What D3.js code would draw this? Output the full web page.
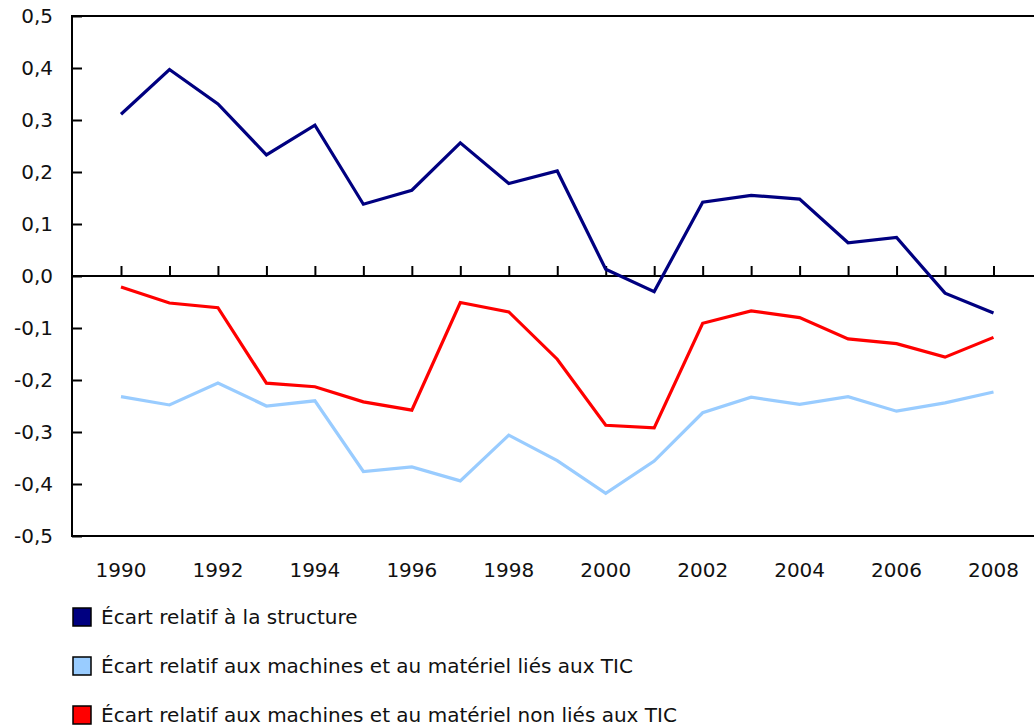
<!DOCTYPE html>
<html>
<head>
<meta charset="utf-8">
<script src="https://cdn.jsdelivr.net/npm/d3@7"></script>
<style>
  body { margin: 0; background: #fff; }
  svg text { font-family: "DejaVu Sans", Verdana, sans-serif; font-weight: normal; fill: #111; }
</style>
</head>
<body>
<svg id="chart" width="1034" height="728"></svg>
<script>
// years on the x axis
const years = [1990, 1991, 1992, 1993, 1994, 1995, 1996, 1997, 1998, 1999,
               2000, 2001, 2002, 2003, 2004, 2005, 2006, 2007, 2008];
// values
const structure = [0.311, 0.397, 0.331, 0.233, 0.290, 0.138, 0.165, 0.256, 0.178, 0.202,
                   0.013, -0.030, 0.142, 0.155, 0.148, 0.064, 0.074, -0.033, -0.071];
const ticMachines = [-0.232, -0.248, -0.206, -0.250, -0.240, -0.376, -0.367, -0.394, -0.306, -0.355,
                     -0.418, -0.356, -0.263, -0.233, -0.247, -0.232, -0.260, -0.244, -0.223];
const nonTicMachines = [-0.021, -0.052, -0.061, -0.206, -0.213, -0.242, -0.258, -0.051, -0.069, -0.160,
                        -0.287, -0.292, -0.091, -0.067, -0.080, -0.121, -0.130, -0.156, -0.118];
const yTicks = [0.5, 0.4, 0.3, 0.2, 0.1, 0.0, -0.1, -0.2, -0.3, -0.4, -0.5];
const xLabelYears = [1990, 1992, 1994, 1996, 1998, 2000, 2002, 2004, 2006, 2008];
const seriesNames = ["Écart relatif à la structure",
                     "Écart relatif aux machines et au matériel liés aux TIC",
                     "Écart relatif aux machines et au matériel non liés aux TIC"];
const seriesColors = ["#000080", "#99ccff", "#ff0000"];

var svg = d3.select("#chart");
var plotLeft = 72, plotRight = 1034, plotTop = 16, plotBottom = 536;
var fontSize = "20px";

//
//scales
var x = d3.scalePoint()
    .domain(years)
    .range([121, 993.5]);
var y = d3.scaleLinear()
    .domain([-0.5, 0.5])
    .range([plotBottom, plotTop]);

var fmt = (d) => d.toFixed(1).replace(".", ",");

//
//y axis with inward ticks
svg.append("g")
    .attr("transform", "translate(" + plotLeft + ",0)")
    .call(d3.axisRight(y).tickValues(yTicks).tickSize(10).tickFormat(""))
    .call(g => g.select(".domain").remove())
    .call(g => g.selectAll("line").attr("stroke", "#000").attr("stroke-width", 2));
svg.append("g").selectAll("text")
    .data(yTicks)
    .enter().append("text")
    .attr("x", 53)
    .attr("y", d => y(d))
    .attr("dy", "0.36em")
    .attr("text-anchor", "end")
    .style("font-size", fontSize)
    .text(fmt);

//
//frame lines
svg.append("line").attr("x1", plotLeft).attr("x2", plotLeft).attr("y1", plotTop - 1).attr("y2", plotBottom + 1)
    .attr("stroke", "#000").attr("stroke-width", 2);
svg.append("line").attr("x1", plotLeft).attr("x2", plotRight).attr("y1", plotTop).attr("y2", plotTop)
    .attr("stroke", "#000").attr("stroke-width", 2);
svg.append("line").attr("x1", plotLeft).attr("x2", plotRight).attr("y1", plotBottom).attr("y2", plotBottom)
    .attr("stroke", "#000").attr("stroke-width", 2);

//
//zero line with year ticks pointing up
svg.append("g")
    .attr("transform", "translate(0," + y(0) + ")")
    .call(d3.axisTop(x).tickSize(10).tickFormat(""))
    .call(g => g.select(".domain").remove())
    .call(g => g.selectAll("line").attr("stroke", "#000").attr("stroke-width", 2));
svg.append("line").attr("x1", plotLeft).attr("x2", plotRight).attr("y1", y(0)).attr("y2", y(0))
    .attr("stroke", "#000").attr("stroke-width", 2);

//
//year labels below the plot
svg.append("g").selectAll("text")
    .data(xLabelYears)
    .enter().append("text")
    .attr("x", d => x(d))
    .attr("y", 577)
    .attr("text-anchor", "middle")
    .style("font-size", fontSize)
    .text(d => d);

//
//lines
var line = d3.line()
    .x((d, i) => x(years[i]))
    .y(d => y(d));
[structure, ticMachines, nonTicMachines].forEach((vals, i) => {
    svg.append("path")
        .datum(vals)
        .attr("fill", "none")
        .attr("stroke", seriesColors[i])
        .attr("stroke-width", 3.2)
        .attr("stroke-linejoin", "miter")
        .attr("d", line);
});

//
//legend
var legend = svg.append("g").selectAll("g")
    .data(seriesNames)
    .enter().append("g")
    .attr("transform", (d, i) => "translate(73," + (608 + i * 49) + ")");
legend.append("rect")
    .attr("width", 18).attr("height", 18)
    .attr("fill", (d, i) => seriesColors[i])
    .attr("stroke", "#000").attr("stroke-width", 1.5);
legend.append("text")
    .attr("x", 28)
    .attr("y", 9)
    .attr("dy", "0.36em")
    .style("font-size", fontSize)
    .text(d => d);
</script>
</body>
</html>
